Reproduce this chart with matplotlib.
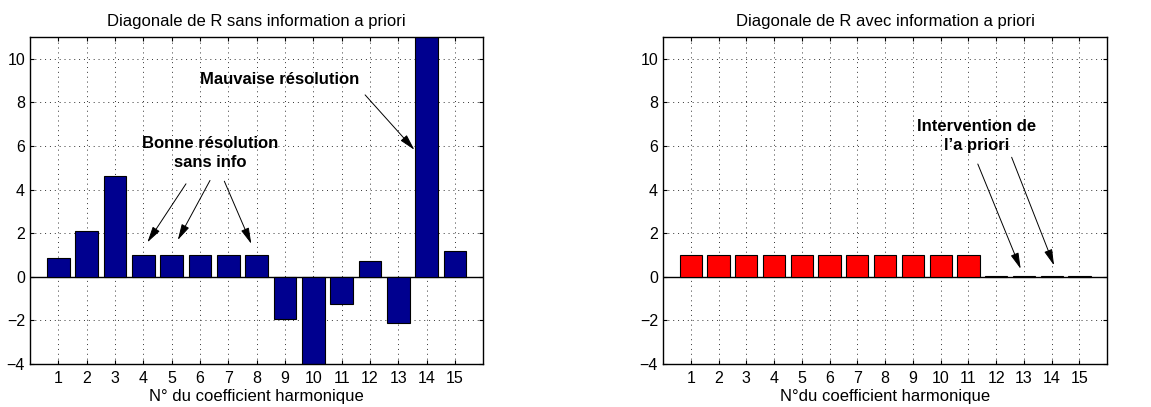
import numpy as np
import matplotlib.pyplot as plt

plt.rcParams['font.family'] = ['Liberation Sans', 'DejaVu Sans']

# harmonic coefficient numbers
coef = np.arange(1, 16)

# diagonal of R without a priori information
r_sans = [0.84, 2.12, 4.63, 1.0, 1.0, 1.0, 1.0, 1.0, -1.92, -4.3, -1.27, 0.74, -2.12, 11.5, 1.2]

# diagonal of R with a priori information
r_avec = [1.0, 1.0, 1.0, 1.0, 1.0, 1.0, 1.0, 1.0, 1.0, 1.0, 1.0, 0.02, 0.02, 0.02, 0.02]

fig = plt.figure(figsize=(11.51, 4.07), dpi=100)
ax1 = fig.add_axes([0.026, 0.106, 0.394, 0.803])
ax2 = fig.add_axes([0.576, 0.106, 0.386, 0.803])


def style_axes(ax, xlabel, title):
    ax.set_xlim(0, 16)
    ax.set_ylim(-4, 11)
    ax.set_xticks(coef)
    ax.set_yticks([-4, -2, 0, 2, 4, 6, 8, 10])
    ax.set_yticklabels(['\u22124', '\u22122', '0', '2', '4', '6', '8', '10'])
    ax.tick_params(direction='in', top=True, right=True, labelsize=11.5, length=3)
    ax.tick_params(axis='x', pad=5)
    ax.grid(True, linestyle=(0, (1, 4)), color='0.2', linewidth=0.7)
    ax.set_axisbelow(True)
    ax.axhline(0, color='black', linewidth=1.0, zorder=1)
    for s in ax.spines.values():
        s.set_linewidth(1.0)
    ax.set_xlabel(xlabel, fontsize=12, labelpad=2)
    ax.set_title(title, fontsize=12, pad=8)


ax1.bar(coef, r_sans, width=0.8, color='#00008F', edgecolor='black', linewidth=0.8, zorder=2)
style_axes(ax1, 'N° du coefficient harmonique', 'Diagonale de R sans information a priori')

arrow = dict(arrowstyle='-|>,head_length=0.7,head_width=0.18', color='black', lw=0.7,
             mutation_scale=14)
ax1.text(8.8, 9.05, 'Mauvaise résolution', ha='center', va='center', fontsize=12, fontweight='bold')
ax1.annotate('', xy=(13.63, 5.73), xytext=(11.76, 8.44), arrowprops=arrow)
ax1.text(6.37, 5.66, 'Bonne résolution\nsans info', ha='center', va='center', fontsize=12,
         fontweight='bold', linespacing=1.35)
ax1.annotate('', xy=(4.09, 1.47), xytext=(5.56, 4.37), arrowprops=arrow)
ax1.annotate('', xy=(5.17, 1.57), xytext=(6.40, 4.53), arrowprops=arrow)
ax1.annotate('', xy=(7.85, 1.39), xytext=(6.82, 4.50), arrowprops=arrow)

ax2.bar(coef, r_avec, width=0.8, color='#FF0000', edgecolor='black', linewidth=0.8, zorder=2)
style_axes(ax2, 'N°du coefficient harmonique', 'Diagonale de R avec information a priori')

ax2.text(11.28, 6.47, 'Intervention de\nl\u2019a priori', ha='center', va='center', fontsize=12,
         fontweight='bold', linespacing=1.35)
ax2.annotate('', xy=(12.92, 0.24), xytext=(11.30, 5.29), arrowprops=arrow)
ax2.annotate('', xy=(14.12, 0.40), xytext=(12.52, 5.60), arrowprops=arrow)

fig.savefig('out.png', dpi=100)
